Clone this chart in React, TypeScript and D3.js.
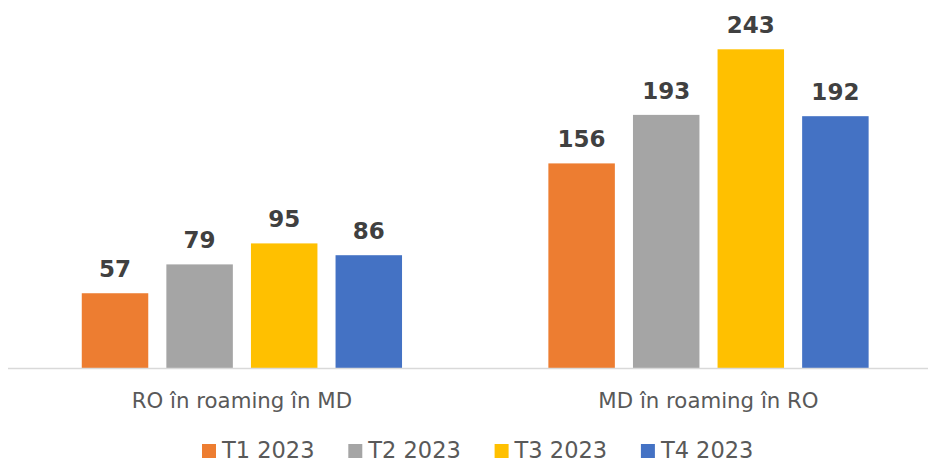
import React, { useEffect, useRef } from 'react';
import * as d3 from 'd3';

const categories = ['RO în roaming în MD', 'MD în roaming în RO'];
const seriesNames = ['T1 2023', 'T2 2023', 'T3 2023', 'T4 2023'];
const seriesColors = ['#ED7D31', '#A5A5A5', '#FFC000', '#4472C4'];
const t1 = [57, 156];
const t2 = [79, 193];
const t3 = [95, 243];
const t4 = [86, 192];
const seriesValues = [t1, t2, t3, t4];

const W = 928;
const H = 464;
const FONT = '"DejaVu Sans", Verdana, sans-serif';

export default function App() {
    const ref = useRef<SVGSVGElement>(null);

    useEffect(() => {
        const svg = d3.select(ref.current);
        svg.selectAll('*').remove();

        const baseY = 368;
        const y = d3.scaleLinear().domain([0, 243]).range([baseY, 49.3]);

        // outer band runs past the right edge, like the cropped original
        const x0 = d3.scaleBand<string>().domain(categories).range([8.6, 941.8]);
        const x1 = d3.scaleBand<string>()
            .domain(seriesNames)
            .range([0, x0.bandwidth()])
            .paddingInner(0.214)
            .paddingOuter(0.865);

        const rows = categories.map((c, ci) => ({
            cat: c,
            vals: seriesNames.map((s, si) => ({ s, si, v: seriesValues[si][ci] })),
        }));

        const g = svg.selectAll('g.grp')
            .data(rows)
            .enter().append('g')
            .attr('class', 'grp')
            .attr('transform', d => 'translate(' + x0(d.cat) + ',0)');

        g.selectAll('rect')
            .data(d => d.vals)
            .enter().append('rect')
            .attr('x', d => x1(d.s)!)
            .attr('y', d => y(d.v))
            .attr('width', x1.bandwidth())
            .attr('height', d => baseY - y(d.v))
            .attr('fill', d => seriesColors[d.si]);

        g.selectAll('text.val')
            .data(d => d.vals)
            .enter().append('text')
            .attr('class', 'val')
            .attr('x', d => x1(d.s)! + x1.bandwidth() / 2)
            .attr('y', d => y(d.v) - 16)
            .attr('text-anchor', 'middle')
            .attr('font-family', FONT)
            .attr('font-weight', 'bold')
            .attr('font-size', 23)
            .attr('fill', '#404040')
            .text(d => d.v);

        // x axis line
        svg.append('line')
            .attr('x1', 8)
            .attr('x2', W)
            .attr('y1', baseY + 0.5)
            .attr('y2', baseY + 0.5)
            .attr('stroke', '#D9D9D9')
            .attr('stroke-width', 1.5);

        svg.selectAll('text.cat')
            .data(categories)
            .enter().append('text')
            .attr('class', 'cat')
            .attr('x', d => x0(d)! + x0.bandwidth() / 2)
            .attr('y', 408)
            .attr('text-anchor', 'middle')
            .attr('font-family', FONT)
            .attr('font-size', 21.3)
            .attr('fill', '#595959')
            .text(d => d);

        // legend
        const leg = svg.selectAll('g.leg')
            .data(seriesNames)
            .enter().append('g')
            .attr('class', 'leg')
            .attr('transform', (d, i) => 'translate(' + (202 + i * 146.3) + ',444)');

        leg.append('rect')
            .attr('width', 14)
            .attr('height', 14)
            .attr('fill', (d, i) => seriesColors[i]);

        leg.append('text')
            .attr('x', 20)
            .attr('y', 14)
            .attr('font-family', FONT)
            .attr('font-size', 22.5)
            .attr('fill', '#595959')
            .text(d => d);
    }, []);

    return (
        <svg
            ref={ref}
            width={W}
            height={H}
            style={{ position: 'absolute', left: 0, top: 0, background: '#fff' }}
        />
    );
}
